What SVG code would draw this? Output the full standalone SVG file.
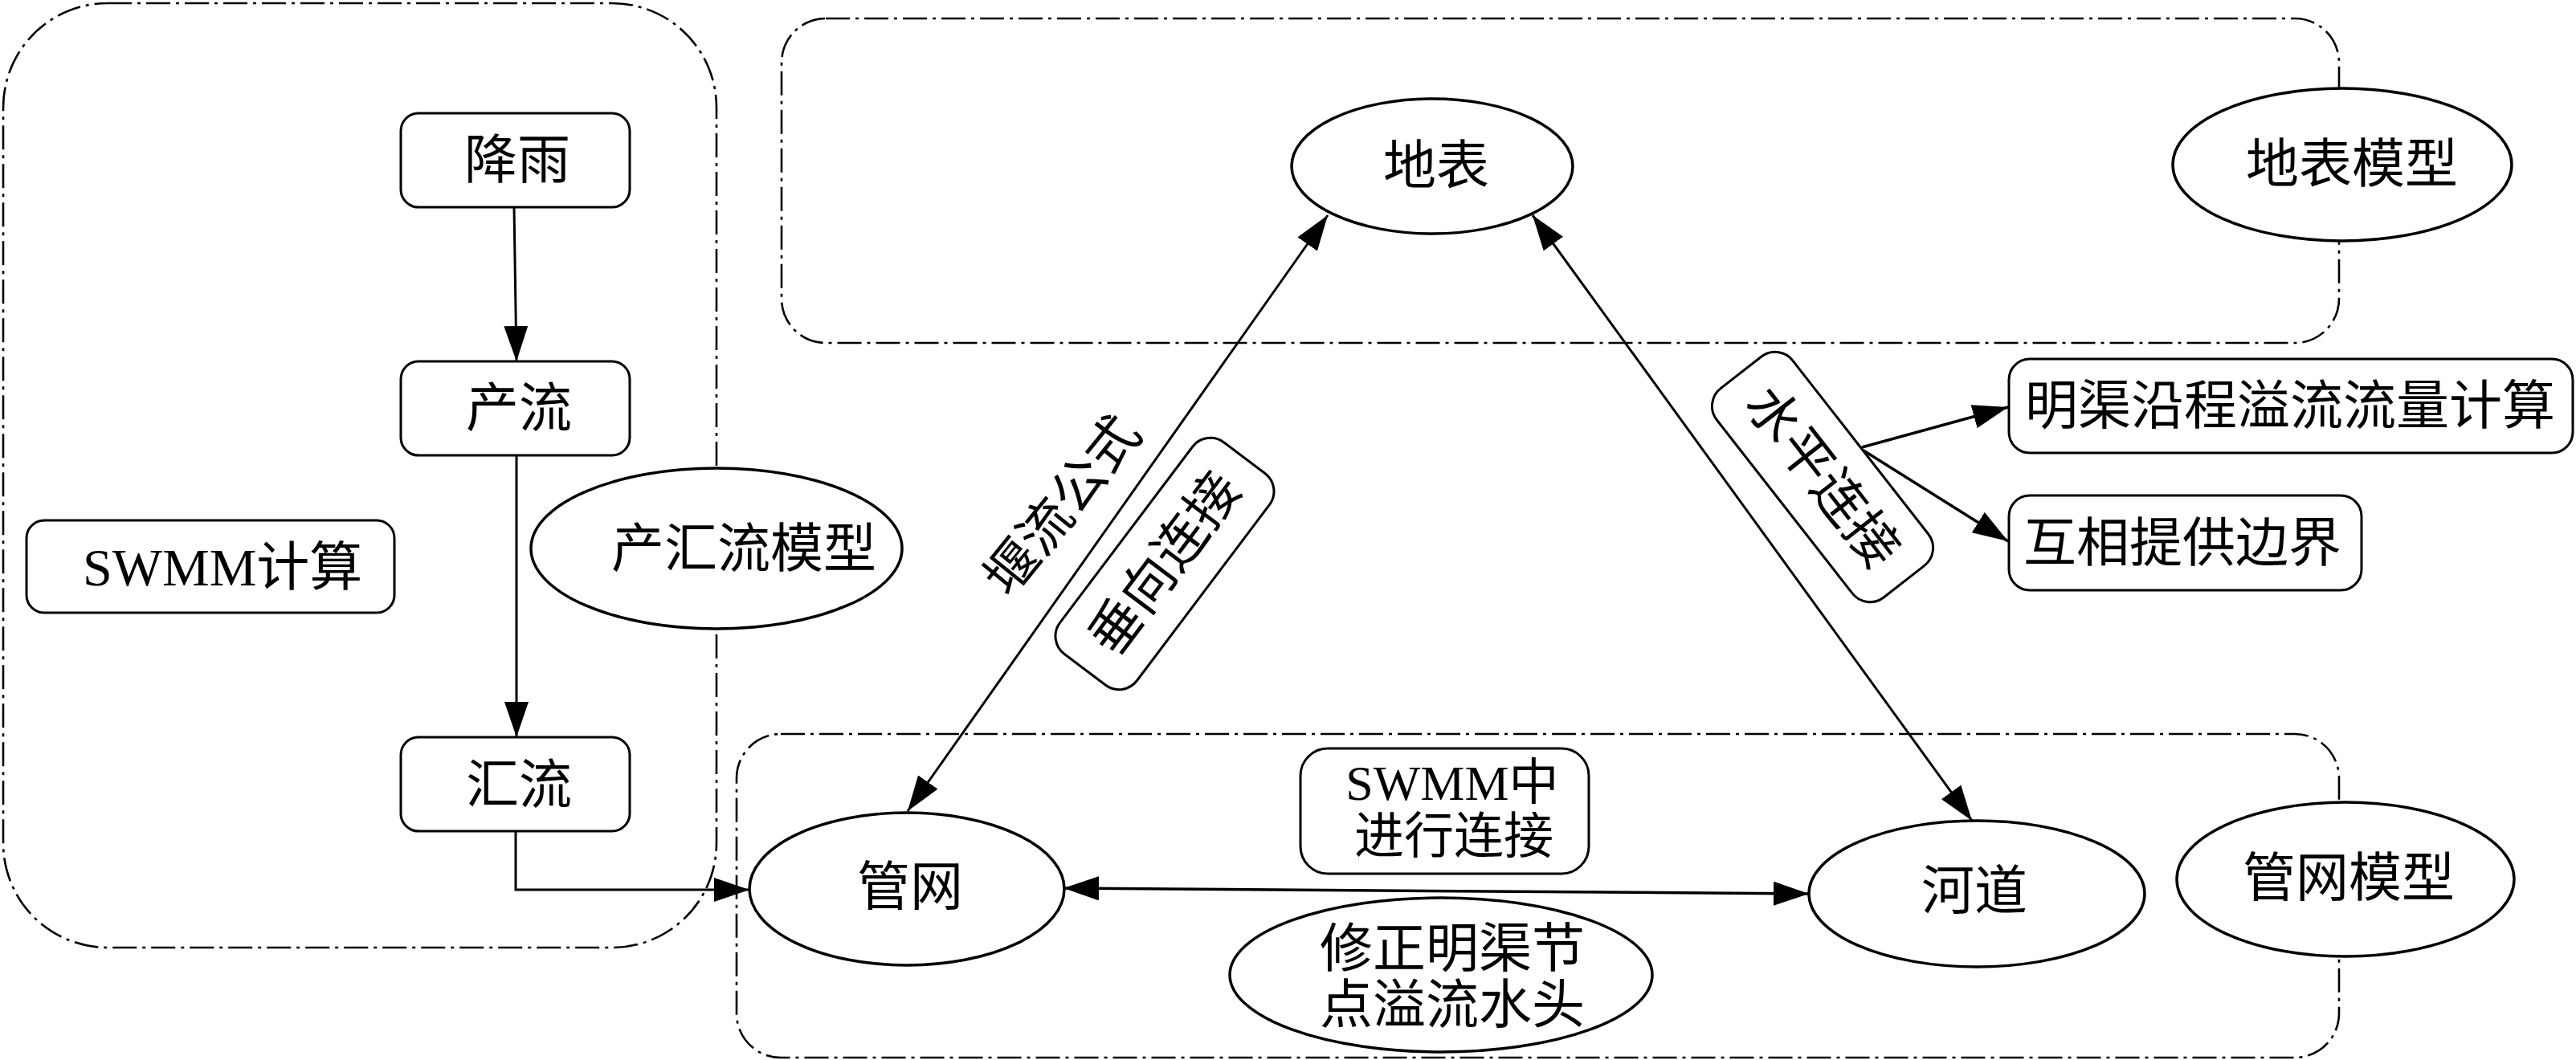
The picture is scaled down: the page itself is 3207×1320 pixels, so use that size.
<svg xmlns="http://www.w3.org/2000/svg" width="3207" height="1320" viewBox="0 0 3207 1320">
<defs>
<marker id="ah" markerUnits="userSpaceOnUse" markerWidth="44" markerHeight="30" refX="44" refY="15" orient="auto-start-reverse" viewBox="0 0 44 30">
<path d="M0,0 L44,15 L0,30 z" fill="#000"/>
</marker>
<style>
.frame{fill:none;stroke:#000;stroke-width:2.6;stroke-dasharray:30 7 4 7}
.box{fill:#fff;stroke:#000;stroke-width:3}
.ell{fill:#fff;stroke:#000;stroke-width:3.5}
.ln{fill:none;stroke:#000;stroke-width:3}
.lnb{fill:none;stroke:#000;stroke-width:3.5}
.t{font-family:"Liberation Serif","Noto Sans CJK SC",serif;font-size:66px;fill:#000;dominant-baseline:central}
.s{font-size:62px}
.c{text-anchor:middle}
</style>
</defs>
<rect width="3207" height="1320" fill="#fff"/>
<g id="containers">
<rect class="frame" x="4" y="4" width="888" height="1176" rx="130" ry="130"/>
<rect class="frame" x="973" y="23" width="1939" height="404" rx="55" ry="55"/>
<rect class="frame" x="917" y="914" width="1995" height="403" rx="55" ry="55"/>
</g>
<g id="connectors">
<path class="ln" d="M640,258 L643,450" marker-end="url(#ah)"/>
<path class="ln" d="M643,567 L643,918" marker-end="url(#ah)"/>
<path class="ln" d="M642,1035 V1108 H933" marker-end="url(#ah)"/>
<path class="ln" d="M1130,1010 L1653,268" marker-start="url(#ah)" marker-end="url(#ah)"/>
<path class="ln" d="M2455,1022 L1908,268" marker-start="url(#ah)" marker-end="url(#ah)"/>
<path class="lnb" d="M1324,1106 L2252,1113" marker-start="url(#ah)" marker-end="url(#ah)"/>
<path class="lnb" d="M2318,557 L2500,507" marker-end="url(#ah)"/>
<path class="lnb" d="M2320,561 L2500,674" marker-end="url(#ah)"/>
</g>
<g id="node-jiangyu">
<rect class="box" x="499" y="141" width="285" height="117" rx="22"/>
<text class="t c" x="644" y="199">降雨</text>
</g>
<g id="node-chanliu">
<rect class="box" x="499" y="450" width="285" height="117" rx="22"/>
<text class="t c" x="646" y="508">产流</text>
</g>
<g id="node-huiliu">
<rect class="box" x="499" y="918" width="285" height="117" rx="22"/>
<text class="t c" x="646" y="977">汇流</text>
</g>
<g id="node-swmm-calc">
<rect class="box" x="33" y="648" width="458" height="115" rx="22"/>
<text class="t" x="103" y="706">SWMM计算</text>
</g>
<g id="node-chanhuiliu-model">
<ellipse class="ell" cx="892" cy="683" rx="231" ry="100"/>
<text class="t c" x="926" y="683">产汇流模型</text>
</g>
<g id="node-dibiao">
<ellipse class="ell" cx="1783" cy="207" rx="175" ry="84"/>
<text class="t c" x="1788" y="206">地表</text>
</g>
<g id="node-dibiao-model">
<ellipse class="ell" cx="2916" cy="205" rx="211" ry="95"/>
<text class="t c" x="2928" y="204">地表模型</text>
</g>
<g id="node-guanwang">
<ellipse class="ell" cx="1129" cy="1107" rx="196" ry="95"/>
<text class="t c" x="1133" y="1104">管网</text>
</g>
<g id="node-hedao">
<ellipse class="ell" cx="2461" cy="1113" rx="209" ry="91"/>
<text class="t c" x="2458" y="1109">河道</text>
</g>
<g id="node-guanwang-model">
<ellipse class="ell" cx="2920" cy="1095" rx="210" ry="96"/>
<text class="t c" x="2924" y="1093">管网模型</text>
</g>
<g id="node-swmm-connect">
<rect class="box" x="1619" y="932" width="359" height="156" rx="34"/>
<text class="t s c" x="1808" y="975">SWMM中</text>
<text class="t s c" x="1810" y="1042">进行连接</text>
</g>
<g id="node-xiuzheng">
<ellipse class="ell" cx="1794" cy="1214" rx="263" ry="96"/>
<text class="t c" x="1808" y="1181">修正明渠节</text>
<text class="t c" x="1808" y="1251">点溢流水头</text>
</g>
<g id="node-mingqu">
<rect class="box" x="2501" y="447" width="702" height="117" rx="26"/>
<text class="t c" x="2851" y="505">明渠沿程溢流流量计算</text>
</g>
<g id="node-huxiang">
<rect class="box" x="2501" y="617" width="439" height="118" rx="26"/>
<text class="t c" x="2717" y="676">互相提供边界</text>
</g>
<g id="label-yanliu">
<text class="t c" transform="translate(1323,630) rotate(-51)" x="0" y="0">堰流公式</text>
</g>
<g id="node-chuixiang">
<g transform="translate(1450,702) rotate(-53)">
<rect class="box" x="-165" y="-60" width="330" height="120" rx="28"/>
<text class="t c" x="0" y="0">垂向连接</text>
</g>
</g>
<g id="node-shuiping">
<g transform="translate(2269,594) rotate(52)">
<rect class="box" x="-165" y="-60" width="330" height="120" rx="28"/>
<text class="t c" x="0" y="0">水平连接</text>
</g>
</g>
</svg>
